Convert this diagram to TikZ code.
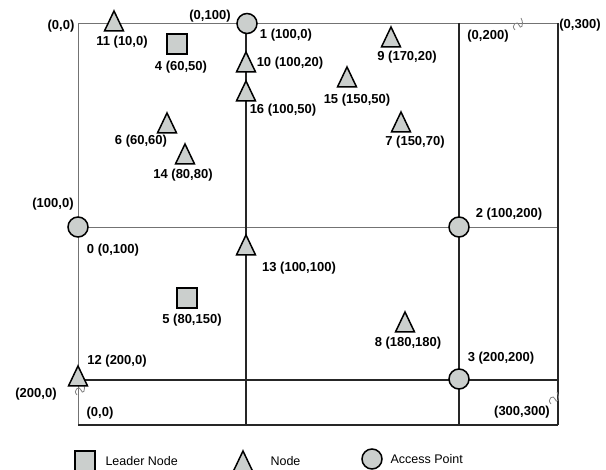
\documentclass[tikz,border=0pt]{standalone}
\usepackage{fontspec}
\setmainfont{Liberation Sans}
\usetikzlibrary{shapes.geometric}
\definecolor{nodegray}{HTML}{CBCFCD}
\begin{document}
\begin{tikzpicture}[x=1pt, y=-1pt,
    every node/.style={font=\fontsize{13}{15}\selectfont\bfseries},
    apoint/.style={circle, draw, line width=1.5pt, fill=nodegray, minimum size=20pt, inner sep=0pt},
    leader/.style={rectangle, draw, line width=1.5pt, fill=nodegray, minimum size=20pt, inner sep=0pt},
    sensor/.style={isosceles triangle, isosceles triangle stretches, shape border rotate=90, draw,
        line width=1.5pt, fill=nodegray, minimum width=19pt, minimum height=20pt, inner sep=0pt, anchor=apex},
    legtext/.style={font=\fontsize{12.5}{14}\selectfont, anchor=west},
    light line/.style={draw=black!55, line width=0.9pt},
    dark line/.style={draw=black!85, line width=1.1pt},
    brk/.style={draw=black!50, line width=0.8pt}]
    \useasboundingbox (0,0) rectangle (606,470);

    % grid corners
    \foreach \c/\x in {1/78, 2/246, 3/459, 4/558}
        \foreach \r/\y in {1/23, 2/227, 3/380, 4/425}
            \coordinate (g\r\c) at (\x,\y);

    \draw[light line] (g11) -- (g14);
    \draw[light line] (g11) -- (g41);
    \draw[light line] (g21) -- (g24);
    \draw[dark line] (g31) -- (g34);
    \draw[dark line] (g12) -- (g42);
    \draw[dark line] (g13) -- (g43);
    \draw[dark line] (g14) -- (g44);
    \draw[dark line] (g41) -- (g44);

    % break marks
    \foreach \bx/\by in {518/24, 80/389, 554/398} {
        \begin{scope}[shift={(\bx,\by)}]
            \draw[brk] (-3,6) .. controls (-8,1) and (0,-4) .. (1,1)
                .. controls (2,6) and (7,2) .. (3,-6);
        \end{scope}
    }

    % access points
    \node[apoint] (ap1) at (247,23.5) {};
    \node[apoint] (ap0) at (78,227) {};
    \node[apoint] (ap2) at (459,227) {};
    \node[apoint] (ap3) at (459,379) {};

    % leader nodes
    \node[leader] (ld4) at (177,44) {};
    \node[leader] (ld5) at (187,298) {};

    % nodes
    \foreach \n/\x/\y in {11/114/9, 10/246/50, 16/246/79, 6/167/111, 14/185/142,
        13/246/233, 12/78/364, 9/391/25, 15/347/65, 7/401/110, 8/405/310} {
        \node[sensor] (n\n) at (\x,\y) {};
    }

    % labels
    \foreach \nm/\x/\y/\txt in {
        c1/61/26/{(0,0)}, c2/210/16/{(0,100)}, c3/53/204/{(100,0)},
        c4/488/36/{(0,200)}, c5/580/25/{(0,300)}, c6/36/394/{(200,0)},
        c7/100/413/{(0,0)}, c8/522/412/{(300,300)},
        t11/122/42/{11 (10,0)}, t1/286/35/{1 (100,0)}, t4/181/67/{4 (60,50)},
        t10/290/63/{10 (100,20)}, t16/283/110/{16 (100,50)}, t6/141/141/{6 (60,60)},
        t14/183/175/{14 (80,80)}, t9/407/57/{9 (170,20)}, t15/357/100/{15 (150,50)},
        t7/415/142/{7 (150,70)}, t2/509/214/{2 (100,200)}, t0/113/250/{0 (0,100)},
        t13/299/268/{13 (100,100)}, t5/192/320/{5 (80,150)}, t12/117/361/{12 (200,0)},
        t8/408/343/{8 (180,180)}, t3/501/358/{3 (200,200)}} {
        \node (\nm) at (\x,\y) {\txt};
    }

    % legend
    \node[leader] (kl) at (85,461) {};
    \node[legtext] (klt) at (102,461) {Leader Node};
    \node[sensor] (kn) at (243,449) {};
    \node[legtext] (knt) at (267,461) {Node};
    \node[apoint] (ka) at (372,459) {};
    \node[legtext] (kat) at (387,459) {Access Point};
\end{tikzpicture}
\end{document}
